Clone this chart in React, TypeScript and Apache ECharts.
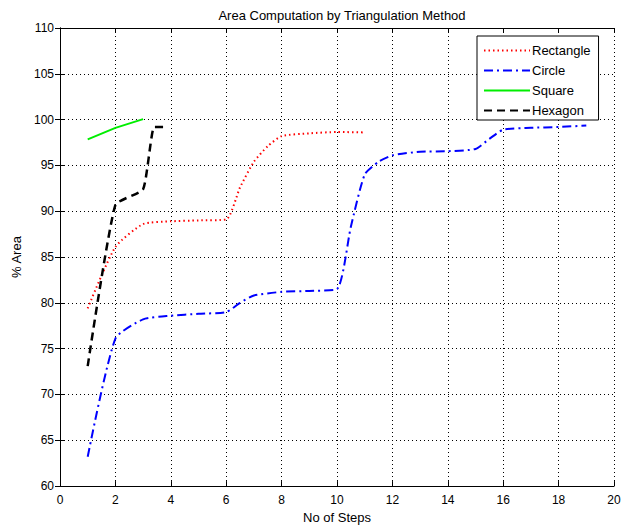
import React, { useEffect, useRef } from "react";
import * as echarts from "echarts";

const rectX = [1, 2, 3, 4, 5, 6, 6.5, 7, 7.5, 8, 9, 10, 11];
const rectY = [79.4, 86.1, 88.6, 88.9, 89.0, 89.1, 92.6, 95.4, 97.1, 98.2, 98.5, 98.65, 98.6];

const circleX = [1, 2, 3, 4, 5, 6, 6.5, 7, 8, 9, 10, 10.5, 11, 11.5, 12, 13, 14, 15, 15.5, 16, 17, 18, 19];
const circleY = [63.2, 76.1, 78.2, 78.6, 78.8, 79.0, 80.0, 80.8, 81.2, 81.3, 81.5, 88.3, 94.0, 95.4, 96.1, 96.5, 96.55, 96.8, 97.9, 98.9, 99.1, 99.2, 99.35];

const squareX = [1, 2, 3];
const squareY = [97.85, 99.1, 100.05];

const hexX = [1, 2, 3, 3.4, 3.8];
const hexY = [73.1, 90.7, 92.4, 99.2, 99.2];

const xTicks = { min: 0, max: 20, interval: 2 };
const yTicks = { min: 60, max: 110, interval: 5 };

const FONT = "Liberation Sans";

function pairs(xs: number[], ys: number[]) {
  return xs.map((x, i) => [x, ys[i]]);
}

export default function App() {
  const ref = useRef<HTMLDivElement>(null);
  useEffect(() => {
    if (!ref.current) return;
    const chart = echarts.init(ref.current, null, { renderer: "svg" });
    const tickStyle = { show: true, inside: true, length: 5, lineStyle: { color: "#000", width: 1 } };
    const boxAxisLine = { show: true, lineStyle: { color: "#000", width: 1 } };
    chart.setOption({
      animation: false,
      backgroundColor: "#fff",
      title: {
        text: "Area Computation by Triangulation Method",
        left: 337,
        top: 4,
        textAlign: "center",
        textStyle: { fontFamily: FONT, fontSize: 13, fontWeight: "normal", color: "#000" },
      },
      grid: { left: 60, right: 15, top: 28, bottom: 41, containLabel: false },
      legend: {
        orient: "vertical",
        left: 477,
        top: 36,
        width: 124,
        padding: [8, 8, 3, 6],
        itemGap: 7,
        itemWidth: 46,
        itemHeight: 13,
        borderColor: "#000",
        borderWidth: 1,
        backgroundColor: "#fff",
        itemStyle: { opacity: 0 },
        textStyle: { fontFamily: FONT, fontSize: 13, color: "#000", padding: [0, 0, 0, -3] },
        data: ["Rectangle", "Circle", "Square", "Hexagon"],
      },
      xAxis: [
        {
          type: "value",
          min: xTicks.min,
          max: xTicks.max,
          interval: xTicks.interval,
          name: "No of Steps",
          nameLocation: "middle",
          nameGap: 23,
          nameTextStyle: { fontFamily: FONT, fontSize: 13, color: "#000" },
          axisLine: boxAxisLine,
          axisTick: tickStyle,
          axisLabel: { fontFamily: FONT, fontSize: 12, color: "#000", margin: 8 },
          splitLine: { show: true, lineStyle: { type: [1, 3], color: "#000", width: 1 } },
        },
        {
          type: "value",
          position: "top",
          min: xTicks.min,
          max: xTicks.max,
          interval: xTicks.interval,
          axisLine: boxAxisLine,
          axisTick: tickStyle,
          axisLabel: { show: false },
          splitLine: { show: false },
        },
      ],
      yAxis: [
        {
          type: "value",
          min: yTicks.min,
          max: yTicks.max,
          interval: yTicks.interval,
          name: "% Area",
          nameLocation: "middle",
          nameGap: 36,
          nameTextStyle: { fontFamily: FONT, fontSize: 13, color: "#000" },
          axisLine: boxAxisLine,
          axisTick: tickStyle,
          axisLabel: { fontFamily: FONT, fontSize: 12, color: "#000", margin: 6 },
          splitLine: { show: true, lineStyle: { type: [1, 3], color: "#000", width: 1 } },
        },
        {
          type: "value",
          position: "right",
          min: yTicks.min,
          max: yTicks.max,
          interval: yTicks.interval,
          axisLine: boxAxisLine,
          axisTick: tickStyle,
          axisLabel: { show: false },
          splitLine: { show: false },
        },
      ],
      series: [
        {
          name: "Rectangle",
          type: "line",
          data: pairs(rectX, rectY),
          symbol: "none",
          smooth: 0.2,
          color: "#ff0000",
          lineStyle: { color: "#ff0000", width: 2, type: [1.5, 3] },
        },
        {
          name: "Circle",
          type: "line",
          data: pairs(circleX, circleY),
          symbol: "none",
          smooth: 0.2,
          color: "#0000ff",
          lineStyle: { color: "#0000ff", width: 2, type: [9, 4, 2, 4] },
        },
        {
          name: "Square",
          type: "line",
          data: pairs(squareX, squareY),
          symbol: "none",
          color: "#00ee00",
          lineStyle: { color: "#00ee00", width: 2, type: "solid" },
        },
        {
          name: "Hexagon",
          type: "line",
          data: pairs(hexX, hexY),
          symbol: "none",
          smooth: 0.15,
          color: "#000",
          lineStyle: { color: "#000", width: 2.5, type: [8, 5] },
        },
      ],
    });
    return () => chart.dispose();
  }, []);
  return (
    <div
      ref={ref}
      style={{ position: "absolute", left: 0, top: 0, width: 629, height: 529 }}
    />
  );
}
